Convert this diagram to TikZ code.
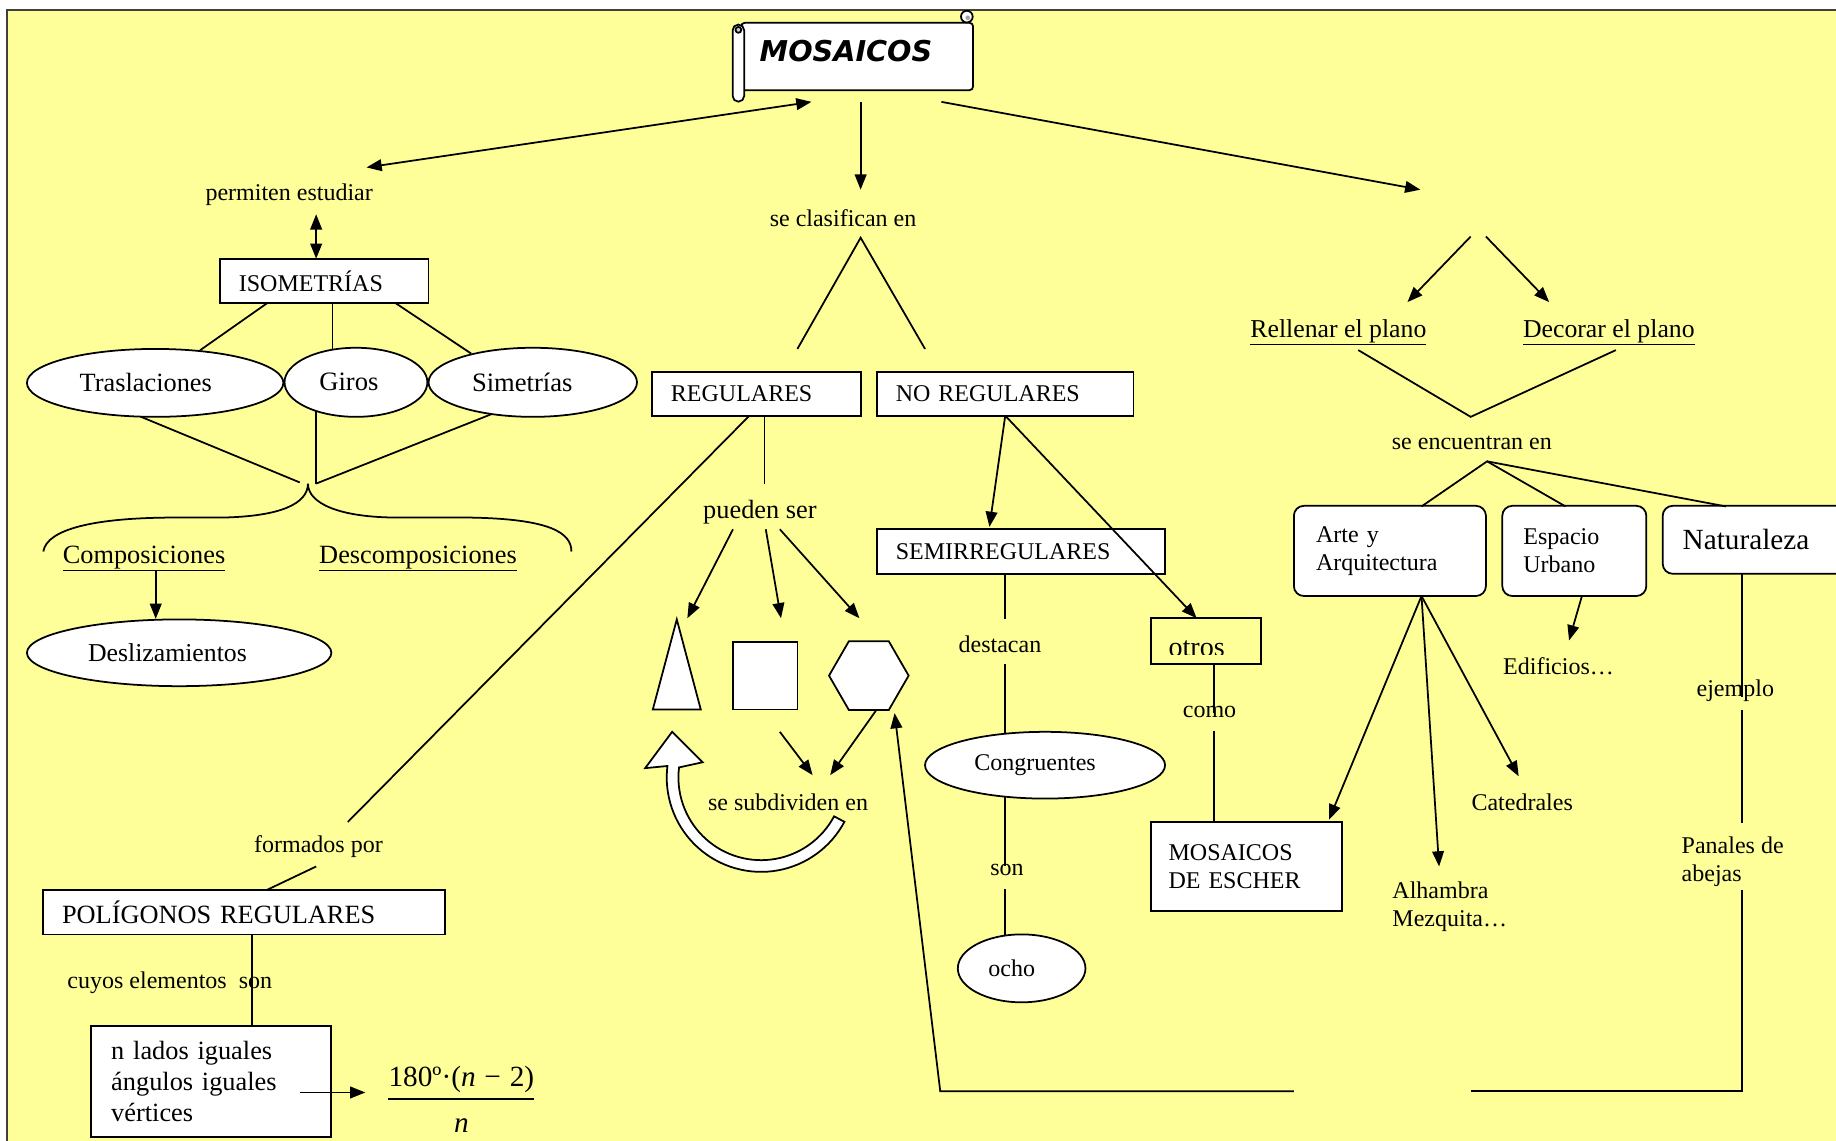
\documentclass[tikz,border=0pt]{standalone}
\usepackage{fontspec}
\setmainfont{Liberation Serif}
\newfontfamily\titlefont{DejaVu Sans}
\usetikzlibrary{arrows.meta,shapes.geometric}
\definecolor{bgyellow}{HTML}{FFFF99}
\newcommand\fs[2]{\fontsize{#1}{#2}\selectfont}
\begin{document}
\begin{tikzpicture}[x=1pt,y=-1pt,
  ln/.style={line width=1.5pt},
  arr/.style={ln,-{Triangle[length=13pt,width=10pt]}},
  darr/.style={ln,{Triangle[length=13pt,width=10pt]}-{Triangle[length=13pt,width=10pt]}},
  box/.style={draw,fill=white,ln,rectangle,inner xsep=16pt,inner ysep=0pt,align=left,font=\fs{20.5}{24}},
  rbox/.style={box,rounded corners=8.5pt,inner xsep=18pt},
  ell/.style={draw,fill=white,ln,ellipse,inner sep=0pt},
  lbl/.style={inner sep=0pt,font=\fs{20.5}{24}},
  lblb/.style={inner sep=0pt,font=\fs{22.5}{26.5}},
]
\useasboundingbox (0,0) rectangle (1568,974);
\clip (0,0) rectangle (1568,974);
\fill[white] (0,0) rectangle (1568,974);
\fill[bgyellow] (6,8.5) rectangle (1570,976);
\draw[line width=1.5pt, black!75] (6,976) -- (6,8.5) -- (1570,8.5);

% title scroll
\begin{scope}[ln]
\draw[fill=white, rounded corners=3pt] (633,19.5) -- (831,19.5) -- (831,77) -- (633,77) -- cycle;
\draw[fill=white] (825.7,14.2) circle[radius=5pt];
\fill[gray!70] (826.5,15.2) circle[radius=2pt];
\draw[fill=white, rounded corners=4.8pt] (625.7,21) rectangle (635.5,86.8);
\draw[fill=gray!40] (630.6,25.5) circle[radius=2.5pt];
\end{scope}
\node[font=\titlefont\bfseries\itshape\fs{24.5}{28}, inner sep=0pt] (mos) at (722.5,44) {MOSAICOS};

% labels
\node[lbl] (perm) at (247,166) {permiten estudiar};
\node[lbl] (clas) at (720,186) {se clasifican en};
\coordinate (blank) at (1262,180);
\node[lbl,font=\fs{22}{26}] (rell) at (1143,284) {\underline{Rellenar el plano}};
\node[lbl,font=\fs{22}{26}] (deco) at (1374,284) {\underline{Decorar el plano}};
\node[lbl] (enc) at (1257,378) {se encuentran en};
\node[lblb] (comp) at (123,477) {\underline{Composiciones}};
\node[lblb] (desc) at (357,477) {\underline{Descomposiciones}};
\node[lblb] (pued) at (649,437) {pueden ser};
\node[lbl] (subd) at (673,685) {se subdividen en};
\node[lbl] (form) at (272,723) {formados por};
\node[lbl] (cuyos) at (145,839) {cuyos elementos\hspace{0.5em}son};
\node[lbl] (dest) at (854,550) {destacan};
\node[lbl] (son) at (860,743) {son};
\node[lbl] (como) at (1033,608) {como};
\node[lbl] (edif) at (1331,569) {Edificios…};
\node[lbl] (ejem) at (1482,590) {ejemplo};
\node[lbl] (cat) at (1300,685) {Catedrales};
\node[lbl,anchor=west,align=left] (alh) at (1189,774) {Alhambra\\Mezquita…};
\node[lbl,anchor=west,align=left] (pan) at (1436,736) {Panales de\\abejas};

% boxes
\node[box,minimum width=178pt,minimum height=38pt,text width=146pt] (iso) at (277,240) {ISOMETRÍAS};
\node[box,minimum width=178pt,minimum height=37pt,text width=146pt] (reg) at (646,336.5) {REGULARES};
\node[box,minimum width=219pt,minimum height=37pt,text width=187pt] (noreg) at (858.5,336.5) {NO REGULARES};
\node[box,minimum width=246pt,minimum height=38pt,text width=214pt] (semi) at (872,471) {SEMIRREGULARES};
\node[box,inner xsep=15pt,minimum width=163pt,minimum height=76pt,text width=133pt] (esc) at (1064.5,740) {MOSAICOS\\DE ESCHER};
\node[box,font=\fs{22.5}{26.5},minimum width=343pt,minimum height=38pt,text width=311pt] (pol) at (208.5,779) {POLÍGONOS REGULARES};
\node[box,font=\fs{22.5}{26.5},inner xsep=17pt,minimum width=205pt,minimum height=95pt,text width=171pt] (nlad) at (180.5,923.5) {n lados iguales\\ángulos iguales\\vértices};
\node[rbox,inner xsep=19pt,minimum width=164pt,minimum height=77pt,text width=126pt] (arte) at (1187,470.5) {Arte y\\Arquitectura};
\node[rbox,minimum width=123pt,minimum height=77pt,text width=87pt] (esp) at (1344.5,470.5) {Espacio\\Urbano};
\node[rbox,font=\fs{25}{29},inner xsep=17pt,minimum width=180pt,minimum height=58pt,text width=146pt] (nat) at (1510,461) {Naturaleza};
\node[box,fill=bgyellow,minimum width=94pt,minimum height=39pt] (otros) at (1030,547.5) {};
\begin{scope}
\clip (983,528) rectangle (1077,559);
\node[inner sep=0pt,font=\fs{24}{28},anchor=base] (otrostext) at (1022,561) {otros};
\end{scope}

% ellipses
\node[ell,font=\fs{22.5}{26},minimum width=219pt,minimum height=58pt] (tras) at (132.5,327) {\hspace*{-16pt}Traslaciones};
\node[ell,font=\fs{22.7}{26},minimum width=122pt,minimum height=59pt] (giros) at (304,326.5) {\hspace*{-12pt}Giros};
\node[ell,font=\fs{22.7}{26},minimum width=178pt,minimum height=59pt] (sim) at (455,326.5) {\hspace*{-18pt}Simetrías};
\node[ell,font=\fs{22}{26},minimum width=260pt,minimum height=57pt] (desl) at (153,557.5) {\hspace*{-20pt}Deslizamientos};
\node[ell,font=\fs{20.5}{24},minimum width=205pt,minimum height=57pt] (congr) at (892.5,653.5) {\hspace*{-17pt}Congruentes};
\node[ell,font=\fs{20.5}{24},minimum width=109pt,minimum height=58pt] (ocho) at (872.5,827) {\hspace*{-17pt}ocho};

% polygons
\draw[ln,fill=white] (578,529) -- (598.5,606) -- (557.5,606) -- cycle;
\coordinate (tri) at (578,580);
\node[draw,fill=white,ln,minimum width=55pt,minimum height=58pt,inner sep=0pt] (sq) at (653.5,577) {};
\node[draw,fill=white,ln,regular polygon,regular polygon sides=6,minimum size=68pt,inner sep=0pt] (hex) at (742,577) {};

% fraction
\node[inner sep=0pt,font=\fs{25}{29},anchor=base] (num) at (394,928) {180º·(\textit{n}\hspace{0.3em}−\hspace{0.3em}2)};
\draw[line width=1.2pt] ([shift={(0,10.6)}]num.base west) -- ([shift={(0,10.6)}]num.base east);
\node[inner sep=0pt,font=\fs{25}{29},anchor=base] (den) at (394,967) {\textit{n}};

% brace
\coordinate (braceTip) at (263,413);
\draw[ln] (37,471) .. controls (40,452) and (80,442) .. (150,442) -- (190,442) .. controls (240,441) and (263,430) .. (braceTip) .. controls (263,430) and (290,442) .. (340,442) -- (400,442) .. controls (470,443) and (488,455) .. (488,471);

% hollow curved arrow
\filldraw[fill=white, ln] plot[domain=28:187, samples=50] ({650+80.6*cos(\x)},{664+80.6*sin(\x)}) -- (551,656) -- (574,625) -- (600,651) -- plot[domain=187:28, samples=50] ({650+70.6*cos(\x)},{664+70.6*sin(\x)}) -- cycle;

% connectors from title
\draw[darr] ([shift={(66,-23)}]perm.center) -- ([shift={(-29.5,43)}]mos.center);
\draw[arr] ([shift={(12.5,43)}]mos.center) -- ([shift={(15,-24)}]clas.center);
\draw[arr] ([shift={(81.5,43)}]mos.center) -- ([shift={(-49,-18)}]blank);
\draw[arr] ([shift={(-6,22)}]blank) -- ([shift={(59,-26)}]rell.center);
\draw[arr] ([shift={(7,22)}]blank) -- ([shift={(-51,-26)}]deco.center);
\draw[ln] ([shift={(17,15)}]rell.center) -- ([shift={(-1,-22)}]enc.center) -- ([shift={(6,15)}]deco.center);
\draw[ln] ([shift={(27,-38)}]arte.center) -- ([shift={(13,16)}]enc.center) -- ([shift={(-7.5,-38)}]esp.center);
\draw[ln] ([shift={(13,16)}]enc.center) -- ([shift={(-36,-28.5)}]nat.center);

% left branch
\draw[darr] ([shift={(23,17)}]perm.center) -- ([shift={(-7,-19)}]iso.center);
\draw[ln] ([shift={(-49,19)}]iso.center) -- (tras.36);
\draw[ln] ([shift={(7,19)}]iso.center) -- ([shift={(-20,-27.9)}]giros.center);
\draw[ln] ([shift={(61,19)}]iso.center) -- (sim.155);
\draw[ln] ([shift={(-12.5,28.8)}]tras.center) -- ([shift={(-7,-1)}]braceTip);
\draw[ln] ([shift={(-34,24.5)}]giros.center) -- ([shift={(7,0)}]braceTip);
\draw[ln] ([shift={(-35,27.1)}]sim.center) -- ([shift={(7,0)}]braceTip);
\draw[arr] ([shift={(10,11)}]comp.center) -- ([shift={(-20,-29)}]desl.center);

% middle branch
\draw[ln] ([shift={(35,-38.5)}]reg.center) -- ([shift={(15,17)}]clas.center) -- ([shift={(-68.5,-38.5)}]noreg.center);
\draw[ln] ([shift={(-6,18.5)}]reg.center) -- ([shift={(25,-21)}]form.center);
\draw[ln] ([shift={(-2,17)}]form.center) -- ([shift={(19.5,-19)}]pol.center);
\draw[ln] ([shift={(7,18.5)}]reg.center) -- ([shift={(4,-24)}]pued.center);
\draw[arr] ([shift={(-23,15)}]pued.center) -- ([shift={(9,-52)}]tri);
\draw[arr] ([shift={(5,15)}]pued.center) -- ([shift={(13.5,-49)}]sq.center);
\draw[arr] ([shift={(17,15)}]pued.center) -- ([shift={(-8,-49)}]hex.center);
\draw[arr] ([shift={(12.5,48)}]sq.center) -- ([shift={(21,-23)}]subd.center);
\draw[arr] ([shift={(6,30)}]hex.center) -- ([shift={(36,-23)}]subd.center);
\draw[ln] ([shift={(6.5,19)}]pol.center) -- ([shift={(34.5,-47.5)}]nlad.center);
\draw[arr] ([shift={(75.5,9.5)}]nlad.center) -- ([shift={(-82,5)}]num.base);

% no regulares branch
\draw[arr] ([shift={(0,18.5)}]noreg.center) -- ([shift={(-27,-21)}]semi.center);
\draw[arr] ([shift={(0,18.5)}]noreg.center) -- ([shift={(-8,-19.5)}]otros.center);
\draw[ln] ([shift={(-14,19)}]semi.center) -- ([shift={(4,-21)}]dest.center);
\draw[ln] ([shift={(4,17)}]dest.center) -- ([shift={(-34.5,-26.8)}]congr.center);
\draw[ln] ([shift={(-34.5,26.8)}]congr.center) -- ([shift={(-2,-3)}]son.center);
\draw[ln] ([shift={(-2,16)}]son.center) -- ([shift={(-14.5,-28)}]ocho.center);
\draw[ln] ([shift={(7,19.5)}]otros.center) -- ([shift={(4,1)}]como.center);
\draw[ln] ([shift={(4,16)}]como.center) -- ([shift={(-27.5,-38)}]esc.center);

% right branch
\draw[arr] ([shift={(27,38.5)}]arte.center) -- ([shift={(70.5,-40)}]esc.center);
\draw[arr] ([shift={(27,38.5)}]arte.center) -- ([shift={(40,-34)}]alh.west);
\draw[arr] ([shift={(27,38.5)}]arte.center) -- ([shift={(-3,-22)}]cat.center);
\draw[arr] ([shift={(6.5,38.5)}]esp.center) -- ([shift={(9,-22)}]edif.center);
\draw[ln] ([shift={(-22,29.5)}]nat.center) -- ([shift={(6,5)}]ejem.center);
\draw[ln] ([shift={(6,16)}]ejem.center) -- ([shift={(52,-33)}]pan.west);
\coordinate (gapR) at (1256,932);
\coordinate (gapL) at (1105,932);
\draw[ln] ([shift={(52,24)}]pan.west) |- (gapR);
\draw[arr] (gapL) -- ++(-302,0) -- ([shift={(22,32)}]hex.center);
\end{tikzpicture}
\end{document}
